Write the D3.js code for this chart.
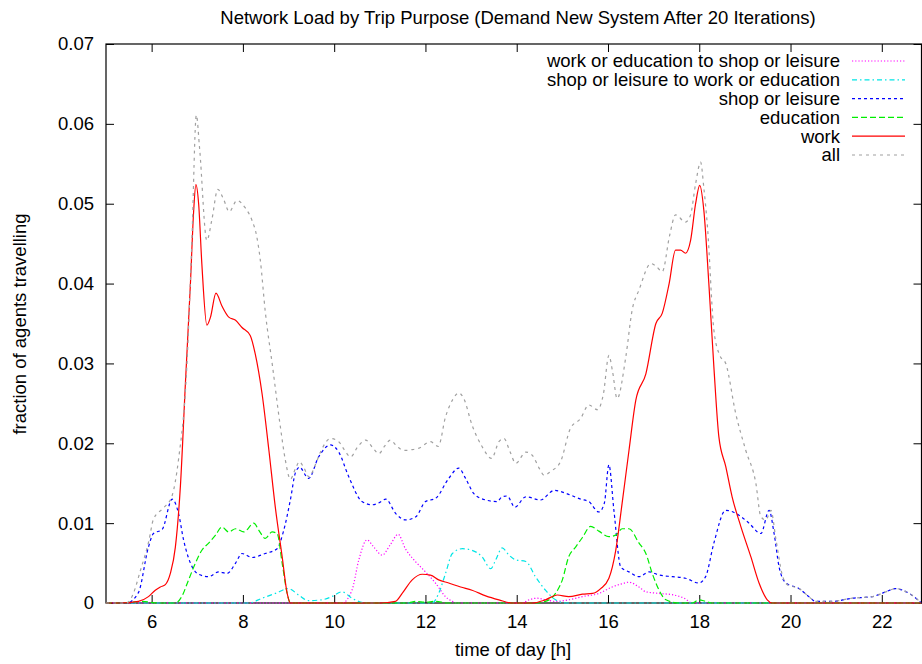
<!DOCTYPE html>
<html>
<head>
<meta charset="utf-8">
<script src="https://cdn.jsdelivr.net/npm/d3@7"></script>
<style>
  html, body { margin: 0; padding: 0; background: #fff; }
  svg { display: block; font-family: "Liberation Sans", Arial, sans-serif; }
</style>
</head>
<body>
<svg id="chart" width="922" height="664"></svg>
<script>
// ---- data (hour of day, fraction of agents travelling) ----
const xTicks = [6, 8, 10, 12, 14, 16, 18, 20, 22];
const yTicks = [0, 0.01, 0.02, 0.03, 0.04, 0.05, 0.06, 0.07];
const yTickLabels = ["0", "0.01", "0.02", "0.03", "0.04", "0.05", "0.06", "0.07"];

const seriesNames = [
  "work or education to shop or leisure",
  "shop or leisure to work or education",
  "shop or leisure",
  "education",
  "work",
  "all"
];

const workToShop = [[5,0],[10.17,0],[10.39,0.0016],[10.54,0.0054],[10.72,0.0079],[10.87,0.007],[11.05,0.006],[11.23,0.0073],[11.40,0.0086],[11.56,0.0068],[11.78,0.0052],[12.0,0.0039],[12.22,0.0025],[12.44,0.0008],[12.59,0.0002],[12.7,0],[14.12,0],[14.27,0.0004],[14.45,0.0006],[14.63,0.0004],[14.85,0.0002],[15.14,0.0004],[15.44,0.0008],[15.8,0.0012],[16.09,0.002],[16.3,0.0024],[16.46,0.0026],[16.68,0.002],[16.83,0.0014],[17.12,0.0012],[17.45,0.001],[17.67,0.0006],[17.85,0],[22.87,0]];

const shopToWork = [[5,0],[8.13,0],[8.42,0.0006],[8.71,0.0012],[9.0,0.0018],[9.22,0.001],[9.44,0.0003],[9.73,0.0004],[9.95,0.0008],[10.17,0.0014],[10.39,0.0006],[10.69,0],[12.15,0],[12.29,0.0012],[12.44,0.0037],[12.59,0.0062],[12.81,0.0068],[13.02,0.0066],[13.24,0.0058],[13.43,0.0043],[13.54,0.0054],[13.68,0.0069],[13.83,0.006],[13.98,0.0054],[14.2,0.0052],[14.41,0.0033],[14.63,0.0016],[14.85,0.0004],[15.07,0],[22.87,0]];

const shopLeisure = [[5,0],[5.45,0],[5.71,0.0013],[5.93,0.007],[6.04,0.0087],[6.23,0.0092],[6.45,0.013],[6.59,0.0112],[6.70,0.0079],[6.85,0.005],[7.03,0.0036],[7.25,0.0033],[7.47,0.0039],[7.65,0.0037],[7.84,0.005],[7.98,0.0062],[8.2,0.0057],[8.49,0.0062],[8.75,0.0068],[8.89,0.009],[9.04,0.0129],[9.15,0.0163],[9.24,0.017],[9.44,0.0156],[9.66,0.0183],[9.92,0.0198],[10.1,0.0189],[10.32,0.0158],[10.61,0.0127],[10.83,0.0123],[11.0,0.0126],[11.13,0.013],[11.35,0.0112],[11.57,0.0104],[11.79,0.0108],[12.0,0.0127],[12.22,0.0131],[12.51,0.0156],[12.73,0.0169],[12.88,0.0156],[13.06,0.0137],[13.32,0.0129],[13.57,0.0127],[13.68,0.0133],[13.79,0.0134],[13.96,0.012],[14.2,0.0133],[14.52,0.0129],[14.82,0.0141],[15.14,0.0136],[15.4,0.013],[15.58,0.0127],[15.8,0.0114],[15.92,0.0125],[16.02,0.0173],[16.13,0.0116],[16.28,0.0045],[16.46,0.0039],[16.68,0.0033],[16.9,0.0039],[17.12,0.0035],[17.41,0.0033],[17.7,0.0031],[17.99,0.0025],[18.14,0.0033],[18.32,0.0075],[18.58,0.0116],[18.87,0.011],[19.09,0.01],[19.35,0.0087],[19.53,0.0116],[19.64,0.0087],[19.75,0.0045],[19.9,0.0025],[20.19,0.0018],[20.4,0.0008],[20.55,0.0002],[20.9,0.0002],[21.35,0.0006],[21.79,0.0008],[22.09,0.0014],[22.3,0.0018],[22.6,0.0012],[22.87,0]];

const education = [[5,0],[5.3,0],[5.79,0.0002],[6.15,0],[6.52,0],[6.66,0.0008],[6.81,0.0029],[6.96,0.005],[7.1,0.0066],[7.25,0.0075],[7.4,0.0085],[7.54,0.0095],[7.69,0.0089],[7.84,0.0093],[8.02,0.0089],[8.24,0.01],[8.35,0.0091],[8.49,0.0081],[8.64,0.0089],[8.75,0.0087],[8.86,0.005],[8.97,0.0012],[9.04,0],[11.6,0],[11.8,0.0002],[12.0,0.0001],[12.2,0.0002],[12.5,0],[14.4,0],[14.63,0.0002],[14.85,0.0012],[15.0,0.0029],[15.14,0.0058],[15.29,0.007],[15.44,0.0082],[15.62,0.0096],[15.8,0.009],[16.02,0.0083],[16.17,0.0085],[16.31,0.0093],[16.46,0.0093],[16.68,0.0075],[16.83,0.0062],[16.97,0.0037],[17.12,0.0016],[17.27,0.0004],[17.56,0],[17.85,0],[17.99,0.0004],[18.14,0.0002],[18.28,0],[22.87,0]];

const work = [[5,0],[5.3,0],[5.71,0.0002],[5.93,0.0008],[6.08,0.0016],[6.19,0.002],[6.30,0.0023],[6.41,0.0037],[6.52,0.007],[6.63,0.0146],[6.74,0.0275],[6.85,0.04],[6.92,0.049],[6.97,0.0524],[7.03,0.05],[7.1,0.0425],[7.21,0.0348],[7.29,0.0358],[7.41,0.0388],[7.54,0.0372],[7.69,0.0358],[7.84,0.0354],[7.98,0.0345],[8.16,0.0335],[8.27,0.0312],[8.42,0.0262],[8.57,0.0191],[8.71,0.012],[8.86,0.0058],[8.97,0.0012],[9.04,0],[11.0,0],[11.34,0.0002],[11.49,0.0012],[11.71,0.0029],[11.93,0.0036],[12.11,0.0035],[12.29,0.0029],[12.51,0.0025],[12.77,0.002],[13.02,0.0016],[13.32,0.0009],[13.61,0.0004],[13.9,0],[14.34,0],[14.63,0.0004],[14.89,0.001],[15.14,0.0008],[15.44,0.0011],[15.66,0.0012],[15.84,0.0018],[16.02,0.0031],[16.17,0.0066],[16.31,0.0125],[16.46,0.0191],[16.61,0.0254],[16.83,0.0287],[17.05,0.035],[17.19,0.0363],[17.34,0.04],[17.48,0.0442],[17.59,0.0442],[17.7,0.0438],[17.81,0.0454],[17.92,0.05],[18.01,0.0523],[18.1,0.0492],[18.21,0.04],[18.32,0.0296],[18.43,0.0208],[18.58,0.0171],[18.72,0.0133],[18.91,0.0096],[19.13,0.0058],[19.31,0.0025],[19.49,0.0004],[19.6,0],[22.87,0]];

const all = [[5,0],[5.45,0],[5.6,0.0012],[5.75,0.004],[5.94,0.0078],[6.04,0.0105],[6.26,0.0119],[6.44,0.0133],[6.59,0.018],[6.77,0.0295],[6.88,0.045],[6.98,0.0611],[7.05,0.057],[7.21,0.0454],[7.32,0.048],[7.45,0.0518],[7.58,0.0505],[7.70,0.049],[7.87,0.0504],[8.05,0.0495],[8.2,0.0479],[8.3,0.046],[8.38,0.043],[8.49,0.0365],[8.65,0.0296],[8.82,0.0221],[8.93,0.0179],[9.04,0.0155],[9.15,0.0168],[9.24,0.0177],[9.33,0.017],[9.45,0.0158],[9.58,0.0172],[9.70,0.0189],[9.92,0.0206],[10.1,0.0202],[10.22,0.0192],[10.36,0.0183],[10.52,0.0196],[10.69,0.0204],[10.85,0.0194],[10.98,0.0187],[11.1,0.0196],[11.23,0.0204],[11.38,0.0196],[11.53,0.0191],[11.7,0.0192],[11.86,0.0194],[12.11,0.0202],[12.28,0.0196],[12.44,0.0233],[12.6,0.0255],[12.73,0.0263],[12.84,0.0256],[13.02,0.0223],[13.24,0.0196],[13.45,0.0181],[13.61,0.0202],[13.72,0.0206],[13.85,0.019],[13.98,0.0175],[14.2,0.0189],[14.34,0.0185],[14.5,0.0168],[14.6,0.016],[14.75,0.0165],[14.96,0.0177],[15.18,0.0219],[15.4,0.0231],[15.58,0.0248],[15.77,0.0242],[15.9,0.0262],[16.02,0.031],[16.1,0.029],[16.2,0.0256],[16.39,0.0308],[16.53,0.0367],[16.68,0.0392],[16.94,0.0425],[17.05,0.0422],[17.19,0.0415],[17.35,0.046],[17.48,0.0486],[17.7,0.0477],[17.81,0.0486],[17.92,0.0525],[18.03,0.0552],[18.1,0.052],[18.18,0.0471],[18.32,0.0342],[18.45,0.031],[18.58,0.03],[18.8,0.0237],[19.02,0.0191],[19.24,0.015],[19.35,0.0108],[19.46,0.0104],[19.57,0.0116],[19.68,0.008],[19.82,0.0035],[19.93,0.0023],[20.19,0.0018],[20.4,0.0008],[20.55,0.0002],[20.9,0.0002],[21.35,0.0006],[21.79,0.0008],[22.09,0.0014],[22.3,0.0018],[22.6,0.0012],[22.87,0]];

const seriesData = [workToShop, shopToWork, shopLeisure, education, work, all];
const seriesColors = ["#ff00ff", "#00e5e5", "#0000ff", "#00ee00", "#ff0000", "#a0a0a0"];
const seriesDash = ["1.2,2", "5,3,1.5,3", "3,3", "6,3", "none", "3,4"];

// ---- layout ----
const pL = 106, pR = 921.5, pT = 44, pB = 603;
const FS = 18.5;

const svg = d3.select("#chart");
const x = d3.scaleLinear().domain([5, 22.87]).range([pL, pR]);
const y = d3.scaleLinear().domain([0, 0.07]).range([pB, pT]);

// title
svg.append("text").attr("x", 518).attr("y", 24).attr("text-anchor", "middle")
  .attr("font-size", FS).attr("fill", "#000")
  .text("Network Load by Trip Purpose (Demand New System After 20 Iterations)");

// axes (ticks inward, mirrored)
const tickLen = 8;
const gx = svg.append("g").attr("transform", `translate(0,${pB})`)
  .call(d3.axisBottom(x).tickValues(xTicks).tickSizeInner(-tickLen).tickSizeOuter(0).tickPadding(12));
const gxTop = svg.append("g").attr("transform", `translate(0,${pT})`)
  .call(d3.axisTop(x).tickValues(xTicks).tickSizeInner(-tickLen).tickSizeOuter(0).tickFormat(""));
const gy = svg.append("g").attr("transform", `translate(${pL},0)`)
  .call(d3.axisLeft(y).tickValues(yTicks).tickSizeInner(-tickLen).tickSizeOuter(0).tickPadding(12)
    .tickFormat((d, i) => yTickLabels[i]));
const gyR = svg.append("g").attr("transform", `translate(${pR},0)`)
  .call(d3.axisRight(y).tickValues(yTicks).tickSizeInner(-tickLen).tickSizeOuter(0).tickFormat(""));

[gx, gxTop, gy, gyR].forEach(g => {
  g.select(".domain").remove();
  g.selectAll("line").attr("stroke", "#000").attr("stroke-width", 1);
  g.selectAll("text").attr("font-size", FS).attr("fill", "#000")
    .attr("font-family", "'Liberation Sans', Arial, sans-serif");
});
gx.selectAll("text").attr("dy", "0.71em");

// clip
svg.append("defs").append("clipPath").attr("id", "clip")
  .append("rect").attr("x", pL).attr("y", pT - 2).attr("width", pR - pL).attr("height", pB - pT + 4);

// frame
svg.append("rect").attr("x", pL).attr("y", pT).attr("width", pR - pL).attr("height", pB - pT)
  .attr("fill", "none").attr("stroke", "#000").attr("stroke-width", 1.2);

// axis labels
svg.append("text").attr("x", 513).attr("y", 656).attr("text-anchor", "middle")
  .attr("font-size", FS).text("time of day [h]");
svg.append("text").attr("transform", "translate(26,324) rotate(-90)").attr("text-anchor", "middle")
  .attr("font-size", FS).text("fraction of agents travelling");

// lines
const line = d3.line().x(d => x(d[0])).y(d => y(d[1])).curve(d3.curveMonotoneX);
const plotG = svg.append("g").attr("clip-path", "url(#clip)");
seriesData.forEach((data, i) => {
  plotG.append("path").datum(data).attr("d", line)
    .attr("fill", "none").attr("stroke", seriesColors[i]).attr("stroke-width", 1.2)
    .attr("stroke-dasharray", seriesDash[i]);
});

// legend
const legX = 840, legY0 = 61, legDy = 18.8;
const leg = svg.append("g");
seriesNames.forEach((name, i) => {
  const yy = legY0 + i * legDy;
  leg.append("text").attr("x", legX).attr("y", yy).attr("dy", "0.35em").attr("text-anchor", "end")
    .attr("font-size", FS).text(name);
  leg.append("line").attr("x1", 852).attr("x2", 905).attr("y1", yy).attr("y2", yy)
    .attr("stroke", seriesColors[i]).attr("stroke-width", 1.2).attr("stroke-dasharray", seriesDash[i]);
});
</script>
</body>
</html>
